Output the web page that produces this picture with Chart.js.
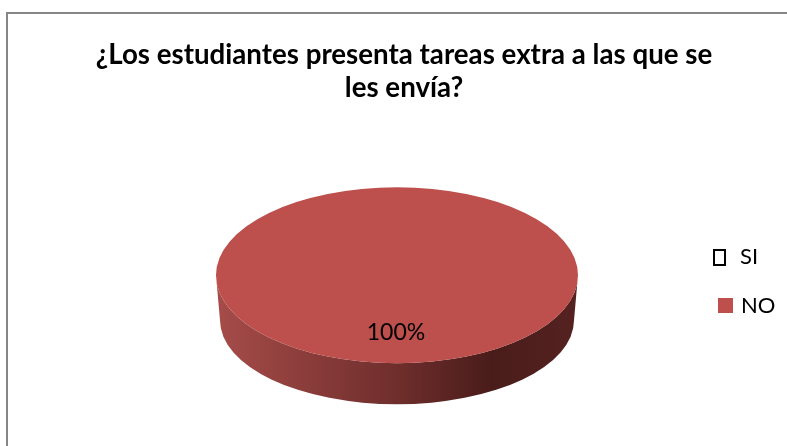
<!DOCTYPE html>
<html>
<head>
<meta charset="utf-8">
<style>
  html, body { margin: 0; padding: 0; background: #fff; }
  canvas { display: block; }
</style>
</head>
<body>
<canvas id="chart1" width="787" height="446"></canvas>
<script src="https://cdn.jsdelivr.net/npm/chart.js@4"></script>
<script>
var titleLines = ["¿Los estudiantes presenta tareas extra a las que se", "les envía?"];
var categories = ["SI", "NO"];
var values = [0, 100];
var sliceColors = ["#ffffff", "#bd4f4c"];

var squash = 88 / 181;
// title sits a bit right of the pie, padding centres the title so the pie is moved back
var pieShift = -7;

// frame line, only top and left show in the picture
var framePlugin = {
	id: "frame",
	beforeDraw: function(chart) {
		var ctx = chart.ctx;
		ctx.save();
		ctx.strokeStyle = "#868686";
		ctx.lineWidth = 2;
		ctx.beginPath();
		ctx.moveTo(7, 446);
		ctx.lineTo(7, 13);
		ctx.lineTo(787, 13);
		ctx.stroke();
		ctx.restore();
	}
};

// squashes the pie to an ellipse and puts the 3d wall under it
var tiltPlugin = {
	id: "tilt",
	beforeDatasetsDraw: function(chart) {
		var ctx = chart.ctx;
		var arc = chart.getDatasetMeta(0).data[1];
		var cx = arc.x + pieShift;
		var rx = arc.outerRadius, ry = rx * squash;
		var gradient = ctx.createLinearGradient(cx - rx, 0, cx + rx, 0);
		gradient.addColorStop(0, "#a64c49");
		gradient.addColorStop(0.5, "#6f2e2c");
		gradient.addColorStop(0.76, "#491c1a");
		gradient.addColorStop(1, "#552220");
		ctx.save();
		ctx.fillStyle = gradient;
		ctx.beginPath();
		ctx.ellipse(cx, arc.y, rx, ry, 0, 0, Math.PI);
		ctx.ellipse(cx, arc.y + 45, rx - 4, ry - 4, 0, Math.PI, 0, true);
		ctx.closePath();
		ctx.fill();
		ctx.restore();

		ctx.save();
		ctx.translate(cx, arc.y);
		ctx.scale(1, squash);
		ctx.translate(-arc.x, -arc.y);
	},
	afterDatasetsDraw: function(chart) {
		var ctx = chart.ctx;
		ctx.restore();

		// data label
		var arc = chart.getDatasetMeta(0).data[1];
		var total = values.reduce(function(a, b) { return a + b; }, 0);
		ctx.save();
		ctx.fillStyle = "#000";
		ctx.font = "23px Lato";
		ctx.textAlign = "center";
		ctx.textBaseline = "middle";
		ctx.fillText(Math.round(values[1] / total * 100) + "%", arc.x + pieShift - 1, arc.y + 57);
		ctx.restore();
	}
};

// legend: the boxes do not line up in the original so it is drawn by hand
var legendPlugin = {
	id: "handLegend",
	afterDraw: function(chart) {
		var ctx = chart.ctx;
		ctx.save();
		ctx.font = "22px Lato";
		ctx.textBaseline = "middle";
		ctx.fillStyle = "#000";
		ctx.fillText(categories[0], 740, 257);
		ctx.fillText(categories[1], 741, 306);
		ctx.strokeStyle = "#000";
		ctx.lineWidth = 2;
		ctx.strokeRect(714, 250, 11, 15);
		ctx.fillStyle = sliceColors[1];
		ctx.fillRect(718, 298, 15, 15);
		ctx.restore();
	}
};

var chart = new Chart(document.getElementById("chart1"), {
	type: "pie",
	data: {
		labels: categories,
		datasets: [{
			data: values,
			backgroundColor: sliceColors,
			borderWidth: 0,
			radius: 181
		}]
	},
	options: {
		responsive: false,
		animation: false,
		layout: {
			padding: { left: 24, right: 3, top: 0, bottom: 16 }
		},
		plugins: {
			legend: { display: false },
			tooltip: { enabled: false },
			title: {
				display: true,
				text: titleLines,
				color: "#000",
				font: { family: "Lato", size: 27.7, weight: "bold", lineHeight: 1.2 },
				padding: { top: 38, bottom: 16 }
			}
		}
	},
	plugins: [framePlugin, tiltPlugin, legendPlugin]
});
</script>
</body>
</html>
